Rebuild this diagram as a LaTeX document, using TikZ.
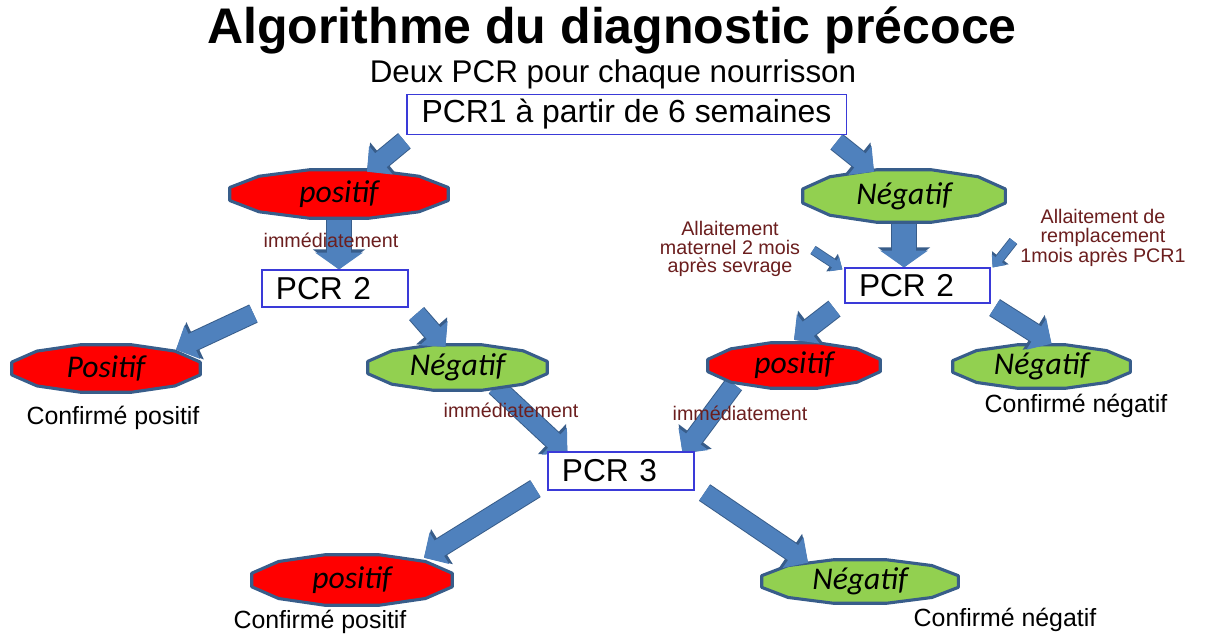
\documentclass[tikz,border=0pt]{standalone}
\usepackage{fontspec}
\setmainfont{Liberation Sans}
\newfontfamily\calibri{Carlito}
\usetikzlibrary{arrows.meta,positioning,calc,backgrounds}

\definecolor{flechebleu}{HTML}{4F81BD}
\definecolor{bordpoly}{HTML}{385D8A}
\definecolor{rouge}{HTML}{FF0000}
\definecolor{vert}{HTML}{92D050}
\definecolor{bordboite}{HTML}{3A3AD8}
\definecolor{notecol}{HTML}{6B1E1E}

\begin{document}
\begin{tikzpicture}[
  x=0.025cm, y=-0.025cm,
  boite/.style={rectangle, draw=bordboite, line width=0.8pt, fill=white,
                minimum height=0.9cm, inner xsep=0.35cm, align=left,
                font=\fontsize{22.5}{26}\selectfont},
  etat/.style={rectangle, inner sep=0pt,
               font=\calibri\itshape\fontsize{22.5}{26}\selectfont},
  poly/.style={draw=bordpoly, line width=2.2pt, line join=round},
  note/.style={text=notecol, align=center, font=\fontsize{14}{13.2}\selectfont},
  conf/.style={font=\fontsize{17.7}{20}\selectfont},
  fleche/.style={flechebleu, line width=12.8pt,
                 -{Triangle[length=12.8pt, width=25.6pt]},
                 preaction={draw=bordpoly, line width=14.2pt,
                            -{Triangle[length=15pt, width=28.4pt]}}},
  grosse/.style={flechebleu, line width=16.5pt,
                 -{Triangle[length=12pt, width=33.5pt]},
                 preaction={draw=bordpoly, line width=17.9pt,
                            -{Triangle[length=14.2pt, width=36.3pt]}}},
  petite/.style={flechebleu, line width=5.7pt,
                 -{Triangle[length=7pt, width=12pt]},
                 preaction={draw=bordpoly, line width=6.9pt,
                            -{Triangle[length=8.8pt, width=14.4pt]}}},
]
  \begin{scope}[on background layer]
    \fill[white] (0,0) rectangle (1207,633);
  \end{scope}
  \useasboundingbox (0,0) rectangle (1207,633);

  % titres
  \node[font=\bfseries\fontsize{35.6}{40}\selectfont] (titre) at (612,30) {Algorithme du diagnostic précoce};
  \node[font=\fontsize{22.3}{26}\selectfont] (sous) at (613,74) {Deux PCR pour chaque nourrisson};

  % premier niveau
  \node[boite, minimum width=10.975cm, minimum height=0.875cm, align=center,
        font=\fontsize{22.7}{26}\selectfont] (pcr1) at (626.5,114.5) {PCR1 à partir de 6 semaines};
  \node[etat, minimum width=5.45cm, minimum height=1.2cm] (pos1) at (339,194) {positif};
  \node[etat, minimum width=5.05cm, minimum height=1.3cm] (neg1) at (904,196) {Négatif};

  % PCR 2
  \node[note] (imm1) at (331,240) {immédiatement};
  \node[boite, text width=2.95cm, minimum height=0.925cm] (pcr2g) at (335,288.5) {PCR 2};
  \node[boite, text width=2.925cm, minimum height=0.875cm] (pcr2d) at (917.5,285.5) {PCR 2};
  \node[note] (lait1) at (730,249) {Allaitement\\maternel 2 mois\\après sevrage};
  \node[note] (lait2) at (1103,238) {Allaitement de\\remplacement\\1mois après PCR1};

  \node[etat, minimum width=4.7cm, minimum height=1.175cm] (pos2) at (106,368.5) {Positif};
  \node[conf] (conf1) at (113,418) {Confirmé positif};
  \node[etat, minimum width=4.475cm, minimum height=1.125cm] (neg2) at (457.5,367.5) {Négatif};
  \node[etat, minimum width=4.3cm, minimum height=1.125cm] (pos3) at (794,365.5) {positif};
  \node[etat, minimum width=4.425cm, minimum height=1.075cm] (neg3) at (1041.5,366.5) {Négatif};
  \node[conf] (conf2) at (1076,406) {Confirmé négatif};

  % PCR 3
  \node[note] (imm2) at (511,410) {immédiatement};
  \node[note] (imm3) at (740,413) {immédiatement};
  \node[boite, text width=2.95cm, minimum height=0.95cm] (pcr3) at (621,471) {PCR 3};
  \node[etat, minimum width=5cm, minimum height=1.25cm] (pos4) at (352,580) {positif};
  \node[conf] (conf3) at (320,622) {Confirmé positif};
  \node[etat, minimum width=4.9cm, minimum height=1.075cm] (neg4) at (860,581.5) {Négatif};
  \node[conf] (conf4) at (1005,620) {Confirmé négatif};

  \begin{scope}[on background layer]
    % fleches qui partent sous les polygones
    \draw[grosse] (pos1.south) -- (pos1.south |- pcr2g.north);
    \draw[grosse] (neg1.south) -- (neg1.south |- pcr2d.north);
    \draw[fleche] ([shift={(38,-4)}]neg2.south) -- ([shift={(20,2)}]pcr3.north west);
    \draw[fleche] ([shift={(-60,-4)}]pos3.south) -- ([shift={(-12,2)}]pcr3.north east);

    % polygones derriere les textes
    \foreach \s/\c in {pos1/rouge, neg1/vert, pos2/rouge, neg2/vert, pos3/rouge,
                       neg3/vert, pos4/rouge, neg4/vert}
      \draw[poly, fill=\c] let \p1=($(\s.north east)-(\s.center)$) in
        ($(\s.center)+(15:1.035*\x1 and 1.035*\y1)$)
        \foreach \a in {45,75,...,345} {-- ($(\s.center)+(\a:1.035*\x1 and 1.035*\y1)$)} -- cycle;

    % fleches qui arrivent sur les polygones
    \draw[fleche] ([shift={(-2,6)}]pcr1.south west) -- ([shift={(28,2)}]pos1.north);
    \draw[fleche] ([shift={(-10,7)}]pcr1.south east) -- ([shift={(-30,2)}]neg1.north);
    \draw[petite] ([shift={(8,1)}]lait1.east) -- ([shift={(-2,2)}]pcr2d.north west);
    \draw[petite] ([shift={(-2,3)}]lait2.west) -- ([shift={(2,0)}]pcr2d.north east);
    \draw[fleche] ([shift={(-8,6)}]pcr2g.south west) -- ([shift={(70,5)}]pos2.north);
    \draw[fleche] ([shift={(8,6)}]pcr2g.south east) -- ([shift={(-12,2)}]neg2.north);
    \draw[fleche] ([shift={(-10,5)}]pcr2d.south west) -- ([yshift=2]pos3.north);
    \draw[fleche] ([shift={(4,4)}]pcr2d.south east) -- ([shift={(10,-1)}]neg3.north);
    \draw[fleche] ([shift={(-12,-2)}]pcr3.south west) -- ([shift={(72,3)}]pos4.north);
    \draw[fleche] ([shift={(10,2)}]pcr3.south east) -- ([shift={(-52,3)}]neg4.north);
  \end{scope}
\end{tikzpicture}
\end{document}
